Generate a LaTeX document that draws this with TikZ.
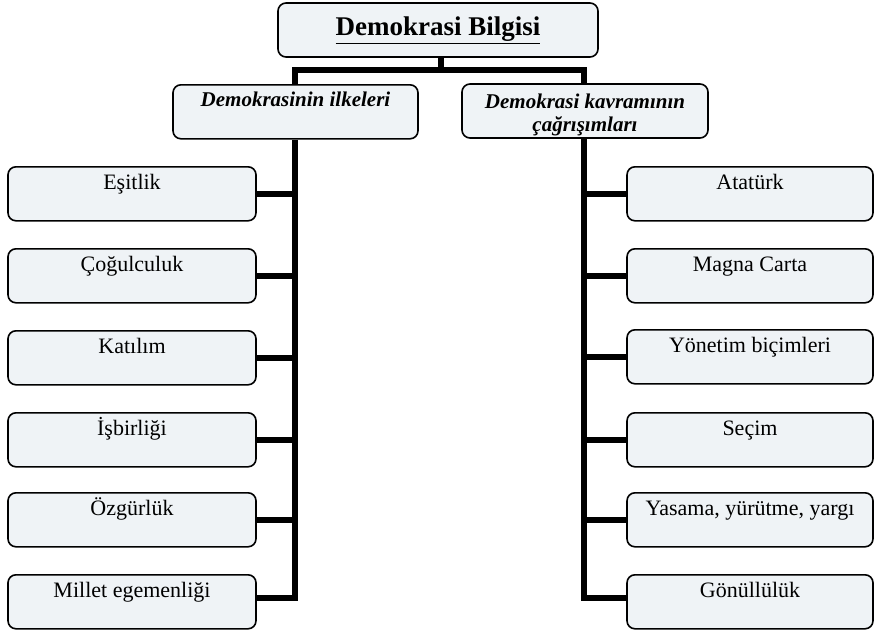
\documentclass[tikz,border=0pt]{standalone}
\usepackage{fontspec}
\setmainfont{Liberation Serif}
\usetikzlibrary{calc}
\definecolor{boxfill}{HTML}{EFF3F6}
\tikzset{
  box/.style={draw=black, line width=1.6pt, rounded corners=8pt, fill=boxfill,
    inner sep=0pt, align=center},
  leaf/.style={box, minimum width=248pt, text height=23pt, text depth=31pt,
    font=\fontsize{22}{26}\selectfont},
  mid/.style={box, font=\fontsize{21}{25}\selectfont\bfseries\itshape},
  conn/.style={line width=5.5pt, line cap=butt}
}
\begin{document}
\begin{tikzpicture}[x=1pt,y=-1pt]
\useasboundingbox (0,0) rectangle (876,632);
% top
\node[box, minimum width=320pt, minimum height=54pt, font=\fontsize{27}{30}\selectfont\bfseries]
  (top) at (438,30) {\underline{Demokrasi Bilgisi}};
% mid
\node[mid, minimum width=245pt, text height=22pt, text depth=32pt] (mL) at (295.5,84) [anchor=north] {Demokrasinin ilkeleri};
\node[mid, minimum width=246pt, minimum height=54pt] (mR) at (585,111)
  {\raisebox{-4pt}[\height][\depth]{\begin{tabular}{@{}c@{}}Demokrasi kavramının\\[-2pt]çağrışımları\end{tabular}}};
% left leaves
\node[leaf, anchor=north] (L1) at (132,166) {Eşitlik};
\node[leaf, anchor=north] (L2) at (132,248) {Çoğulculuk};
\node[leaf, anchor=north] (L3) at (132,330) {Katılım};
\node[leaf, anchor=north] (L4) at (132,412) {İşbirliği};
\node[leaf, anchor=north] (L5) at (132,492) {Özgürlük};
\node[leaf, anchor=north] (L6) at (132,574) {Millet egemenliği};
% right leaves
\node[leaf, minimum width=246pt, anchor=north] (R1) at (750,166) {Atatürk};
\node[leaf, minimum width=246pt, anchor=north] (R2) at (750,248) {Magna Carta};
\node[leaf, minimum width=246pt, anchor=north] (R3) at (750,329) {Yönetim biçimleri};
\node[leaf, minimum width=246pt, anchor=north] (R4) at (750,412) {Seçim};
\node[leaf, minimum width=246pt, anchor=north] (R5) at (750,492) {Yasama, yürütme, yargı};
\node[leaf, minimum width=246pt, anchor=north] (R6) at (750,574) {Gönüllülük};
% connectors top
\coordinate (j) at (441,70);
\coordinate (jL) at (295,70);
\coordinate (jR) at (584,70);
\draw[conn] (top.south -| j) -- (j);
\draw[conn, line join=miter] (jL |- mL.north) -- (jL) -- (jR) -- (jR |- mR.north);
% left trunk
\coordinate (tL) at (295,598);
\draw[conn, line join=miter] (jL |- mL.south) -- (tL) -- (L6.east |- tL);
\foreach \n in {L1,L2,L3,L4,L5}{
  \draw[conn] (\n.east) -- (\n.east -| tL);
}
% right trunk
\coordinate (tR) at (586,598);
\draw[conn, line join=miter] (jR |- mR.south) -- (jR |- tR) -- (R6.west |- tR);
\foreach \n in {R1,R2,R3,R4,R5}{
  \draw[conn] (\n.west) -- (\n.west -| jR);
}
\end{tikzpicture}
\end{document}
